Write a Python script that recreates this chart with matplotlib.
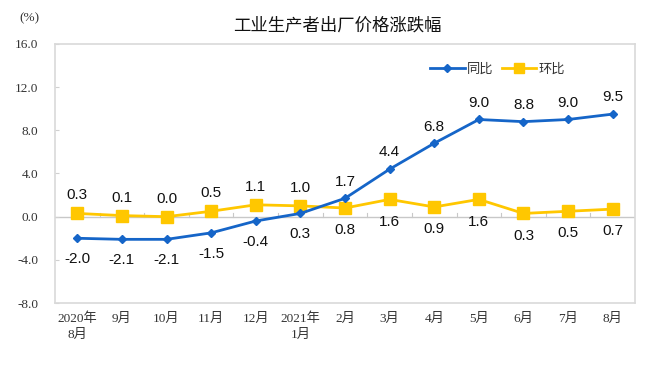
import matplotlib.pyplot as plt
import numpy as np

months = ['2020年\n8月', '9月', '10月', '11月', '12月', '2021年\n1月',
          '2月', '3月', '4月', '5月', '6月', '7月', '8月']
yoy = [-2.0, -2.1, -2.1, -1.5, -0.4, 0.3, 1.7, 4.4, 6.8, 9.0, 8.8, 9.0, 9.5]
mom = [0.3, 0.1, 0.0, 0.5, 1.1, 1.0, 0.8, 1.6, 0.9, 1.6, 0.3, 0.5, 0.7]
yticks = [-8.0, -4.0, 0.0, 4.0, 8.0, 12.0, 16.0]

blue = '#1565C8'
yellow = '#FFC700'
cjk = ['Liberation Sans', 'Noto Sans CJK SC']
serif = ['Liberation Serif', 'Noto Sans CJK SC']

fig = plt.figure(figsize=(6.57, 3.66), dpi=100)
ax = fig.add_axes([0.0837, 0.172, 0.8828, 0.708])

x = np.arange(len(months))
ax.axhline(0, color='#c8c8c8', lw=1, zorder=1)
# small ticks between categories on the zero line
for b in x[1:] - 0.5:
    ax.plot([b, b], [0, 0.35], color='#c8c8c8', lw=0.8, zorder=1)

ax.plot(x, yoy, color=blue, lw=2, marker='D', ms=4.5, label='同比', zorder=3)
ax.plot(x, mom, color=yellow, lw=2, marker='s', ms=9, label='环比', zorder=2)

split = 6
for i in x:
    if i < split:
        ax.annotate(f'{yoy[i]:.1f}', (i, yoy[i]), xytext=(0, -15), textcoords='offset points',
                    ha='center', va='center', fontsize=11, family=cjk, color='#111111')
        ax.annotate(f'{mom[i]:.1f}', (i, mom[i]), xytext=(0, 13), textcoords='offset points',
                    ha='center', va='center', fontsize=11, family=cjk, color='#111111')
    else:
        ax.annotate(f'{yoy[i]:.1f}', (i, yoy[i]), xytext=(0, 12), textcoords='offset points',
                    ha='center', va='center', fontsize=11, family=cjk, color='#111111')
        ax.annotate(f'{mom[i]:.1f}', (i, mom[i]), xytext=(0, -16), textcoords='offset points',
                    ha='center', va='center', fontsize=11, family=cjk, color='#111111')

ax.set_xlim(-0.5, len(months) - 0.5)
ax.set_ylim(-8, 16)
ax.set_yticks(yticks)
ax.set_yticklabels([f'{v:.1f}' for v in yticks], family=serif, fontsize=9.5, color='#333333')
ax.set_xticks(x)
ax.set_xticklabels(months, family=serif, fontsize=9.5, color='#333333', linespacing=1.35)
ax.tick_params(axis='x', length=0, pad=7)
ax.tick_params(axis='y', length=3, direction='in', color='#d0d0d0', pad=12)

for s in ax.spines.values():
    s.set_color('#d9d9d9')
    s.set_linewidth(1.2)

leg = ax.legend(loc='upper right', bbox_to_anchor=(0.9, 0.97), ncol=2, frameon=False,
                prop={'family': cjk, 'size': 9.5}, handlelength=2.6, columnspacing=0.6,
                handletextpad=0.2, markerscale=0.8)
for t in leg.get_texts():
    t.set_color('#333333')

fig.text(0.513, 0.932, '工业生产者出厂价格涨跌幅', ha='center', va='center',
         fontsize=12.5, family=cjk, color='#111111')
fig.text(0.045, 0.95, '(%)', ha='center', va='center', fontsize=9.5, family=serif, color='#333333')

fig.savefig('out.png', dpi=100)
